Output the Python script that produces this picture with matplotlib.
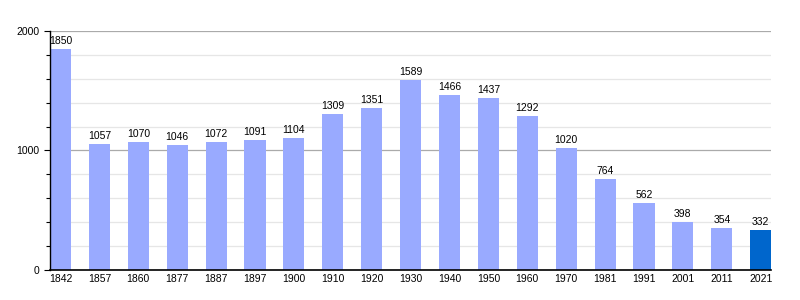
import numpy as np
import matplotlib.pyplot as plt
from matplotlib.ticker import MultipleLocator

plt.rcParams['font.family'] = ['Liberation Sans', 'DejaVu Sans']

years = ["1842", "1857", "1860", "1877", "1887", "1897", "1900", "1910", "1920", "1930",
         "1940", "1950", "1960", "1970", "1981", "1991", "2001", "2011", "2021"]
population = [1850, 1057, 1070, 1046, 1072, 1091, 1104, 1309, 1351, 1589,
              1466, 1437, 1292, 1020, 764, 562, 398, 354, 332]

x = np.arange(len(years))
colors = ["#99aaff"] * (len(years) - 1) + ["#0066cc"]

fig = plt.figure(figsize=(8, 3), dpi=100)
ax = fig.add_axes([0.0625, 0.1, 0.9015, 0.797])

ax.bar(x, population, width=0.54, color=colors, zorder=2)
for xi, v in zip(x, population):
    ax.text(xi, v + 25, str(v), ha="center", va="bottom", fontsize=7.5, zorder=3)

ax.set_xlim(-0.27, len(years) - 1 + 0.27)
ax.set_ylim(0, 2000)
ax.set_xticks(x)
ax.set_xticklabels(years, fontsize=7.5)
ax.yaxis.set_major_locator(MultipleLocator(1000))
ax.yaxis.set_minor_locator(MultipleLocator(200))
ax.tick_params(axis="y", labelsize=7.5, length=4, width=0.8)
ax.tick_params(axis="y", which="minor", length=3, width=0.8)
ax.tick_params(axis="x", length=0, pad=3)

ax.grid(axis="y", which="major", color="#aaaaaa", lw=0.9, zorder=0)
ax.grid(axis="y", which="minor", color="#e6e6e6", lw=0.9, zorder=0)
ax.set_axisbelow(True)

for s in ["top", "right"]:
    ax.spines[s].set_visible(False)
ax.spines["left"].set_linewidth(1.0)
ax.spines["bottom"].set_linewidth(1.2)

fig.savefig("out.png", dpi=100)
